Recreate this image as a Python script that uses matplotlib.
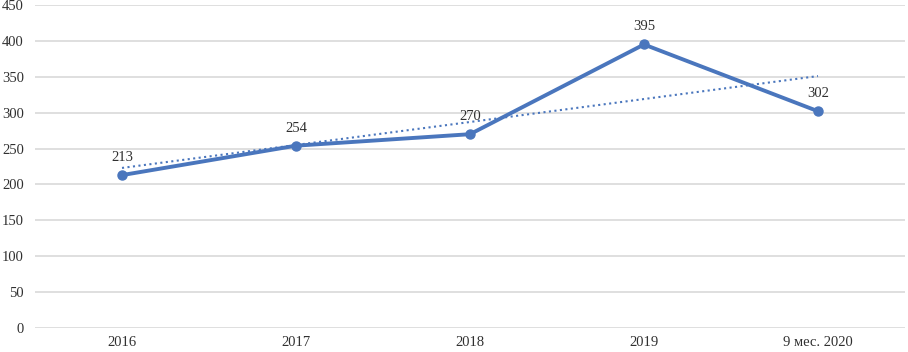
import matplotlib.pyplot as plt

# данные
years = ['2016', '2017', '2018', '2019', '9 мес. 2020']
values = [213, 254, 270, 395, 302]
trend_ends = [223, 351]  # линия тренда (начало и конец)

plt.rcParams['font.family'] = ['Liberation Serif', 'DejaVu Serif']

fig = plt.figure(figsize=(9.08, 3.52), dpi=100)
ax = fig.add_axes([35 / 908, 24 / 352, 870 / 908, 323 / 352])

x = list(range(len(years)))
color = '#4a76bd'

ax.plot(x, values, color=color, linewidth=2.8, marker='o', markersize=6.5, zorder=3)
ax.plot([x[0], x[-1]], trend_ends, color=color, linewidth=1.5, linestyle=':', zorder=2)

for xi, v in zip(x, values):
    ax.annotate(str(v), (xi, v), xytext=(0, 8), textcoords='offset points',
                ha='center', va='bottom', fontsize=10.5, color='#303030')

ax.set_xlim(-0.5, len(years) - 0.5)
ax.set_ylim(0, 450)
ax.set_yticks(range(0, 451, 50))
ax.set_xticks(x)
ax.set_xticklabels(years)
ax.grid(axis='y', color='#d9d9d9', linewidth=1.2)
ax.set_axisbelow(True)
for s in ax.spines.values():
    s.set_visible(False)
ax.tick_params(length=0, labelsize=10.5, colors='#303030')
ax.tick_params(axis='y', pad=8)
ax.tick_params(axis='x', pad=6)

fig.savefig('out.png', dpi=100)
